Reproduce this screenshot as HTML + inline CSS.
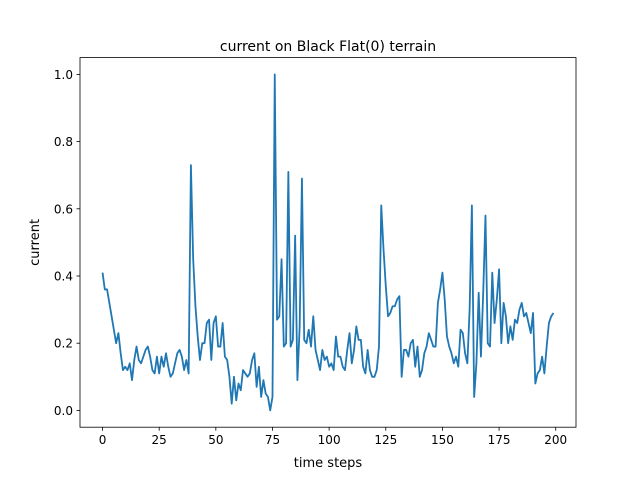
<!DOCTYPE html>
<html><head><meta charset="utf-8"><style>
body{margin:0;background:#fff;}
svg{display:block;font-family:"DejaVu Sans","Liberation Sans",sans-serif;}
</style></head><body>
<svg id="chart" width="640" height="480" xmlns="http://www.w3.org/2000/svg">
<rect width="640" height="480" fill="#fff"/>
<text x="328" y="51" text-anchor="middle" font-size="14">current on Black Flat(0) terrain</text>
<g id="axes"></g>
<polyline id="line" fill="none" stroke="#1f77b4" stroke-width="1.8" stroke-linejoin="round"/>
<rect x="80" y="57.6" width="496" height="369.6" fill="none" stroke="#000" stroke-width="0.8"/>
<text x="328" y="467" text-anchor="middle" font-size="13">time steps</text>
<text transform="translate(39,242.4) rotate(-90)" text-anchor="middle" font-size="13">current</text>
</svg>
<script>
const values = [0.41,0.36,0.36,0.32,0.28,0.24,0.20,0.23,0.17,0.12,0.13,0.12,0.14,0.09,0.15,0.19,0.15,0.14,0.16,0.18,0.19,0.16,0.12,0.11,0.16,0.11,0.16,0.13,0.17,0.13,0.10,0.11,0.14,0.17,0.18,0.16,0.12,0.15,0.11,0.73,0.45,0.31,0.22,0.15,0.20,0.20,0.26,0.27,0.15,0.26,0.28,0.19,0.19,0.26,0.16,0.15,0.10,0.02,0.10,0.03,0.08,0.06,0.12,0.11,0.10,0.11,0.15,0.17,0.07,0.13,0.04,0.09,0.05,0.04,0.00,0.04,
1.00,0.27,0.28,0.45,0.19,0.20,0.71,0.19,0.21,0.52,0.09,0.25,0.69,0.21,0.20,0.24,0.19,0.28,0.18,0.15,0.12,0.18,0.15,0.16,0.13,0.14,0.12,0.22,0.16,0.16,0.13,0.12,0.18,0.23,0.14,0.18,0.25,0.21,0.21,0.13,0.11,0.18,0.12,0.10,0.10,0.12,0.19,0.61,0.48,0.37,0.28,0.29,0.31,0.31,0.33,0.34,0.10,0.18,0.18,0.16,0.20,0.21,0.13,0.19,0.10,0.12,0.17,0.19,0.23,0.21,0.19,0.19,0.32,0.36,0.41,0.33,0.22,0.19,0.17,0.14,0.16,0.13,0.24,0.23,0.17,0.14,0.30,0.61,0.04,0.14,0.35,0.16,0.35,0.58,0.20,0.19,0.41,0.26,0.33,0.42,0.20,0.32,0.28,0.20,0.25,0.21,0.27,0.26,0.30,0.32,0.28,0.29,0.26,0.23,0.29,0.08,0.11,0.12,0.16,0.11,0.19,0.26,0.28,0.29];
const xTicks = [0,25,50,75,100,125,150,175,200];
const yTicks = [0.0,0.2,0.4,0.6,0.8,1.0];
const yTickLabels = ["0.0","0.2","0.4","0.6","0.8","1.0"];

const L=80,R=576,T=57.6,B=427.2;
const n=values.length;
const xmin=-(n-1)*0.05, xmax=(n-1)*1.05;
const ymn=Math.min(...values), ymx=Math.max(...values), yr=ymx-ymn;
const ymin=ymn-yr*0.05, ymax=ymx+yr*0.05;
const xs=v=>L+(v-xmin)/(xmax-xmin)*(R-L);
const ys=v=>B-(v-ymin)/(ymax-ymin)*(B-T);
const NS="http://www.w3.org/2000/svg";
const ax=document.getElementById('axes');
function mk(tag,attrs){const e=document.createElementNS(NS,tag);for(const k in attrs)e.setAttribute(k,attrs[k]);return e;}
xTicks.forEach(t=>{
  const x=xs(t);
  const ln=mk('line',{x1:x,x2:x,y1:B,y2:B+3.5,stroke:'#000','stroke-width':0.8});
  
  
  ax.appendChild(ln);
  const tx=mk('text',{x:x,y:B+17,'text-anchor':'middle','font-size':12});
  
  
  tx.textContent=t; ax.appendChild(tx);
});
yTicks.forEach((t,i)=>{
  const y=ys(t);
  const ln=mk('line',{x1:L-3.5,x2:L,y1:y,y2:y,stroke:'#000','stroke-width':0.8});
  
  
  ax.appendChild(ln);
  const tx=mk('text',{x:L-7,y:y+4.5,'text-anchor':'end','font-size':12});
  
  
  tx.textContent=yTickLabels[i]; ax.appendChild(tx);
});
document.getElementById('line').setAttribute('points',values.map((v,i)=>xs(i).toFixed(2)+','+ys(v).toFixed(2)).join(' '));
</script>
</body></html>
